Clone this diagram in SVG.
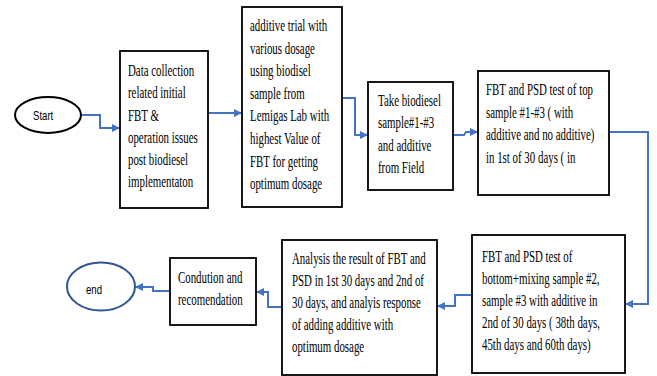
<svg xmlns="http://www.w3.org/2000/svg" width="657" height="376" viewBox="0 0 657 376">
<style>
.box{fill:#fff;stroke:#000;stroke-width:1.8}
.t{font-family:"Liberation Serif","Times New Roman",serif;font-size:16px;fill:#000}
.s{font-family:"Liberation Sans",Arial,sans-serif;font-size:12px;fill:#000}
.c{fill:none;stroke:#4472C4;stroke-width:2;marker-end:url(#arr)}
</style>
<defs>
<marker id="arr" markerUnits="userSpaceOnUse" markerWidth="9" markerHeight="8" refX="8" refY="4" orient="auto">
<path d="M0,0 L8,4 L0,8 z" fill="#4472C4"/>
</marker>
</defs>
<rect width="657" height="376" fill="#fff"/>
<g id="connectors">
<path class="c" d="M82,115 H100 V128 H120"/>
<path class="c" d="M208,113 H242"/>
<path class="c" d="M342,98 H355 V135 H368"/>
<path class="c" d="M453,135 H464 L466,132 H478"/>
<path class="c" d="M609,132 H648 V304 H625"/>
<path class="c" d="M472,295 H455 V306 H437"/>
<path class="c" d="M282,307 H268 V292 H256"/>
<path class="c" d="M170,291 H153 V287 H135"/>
</g>
<g id="start">
<ellipse cx="48" cy="115" rx="33" ry="18" fill="#fff" stroke="#000" stroke-width="2"/>
<text class="s" transform="translate(33 120) scale(0.8 1)">Start</text>
</g>
<g id="data-collection">
<rect class="box" x="120" y="51" width="88" height="157"/>
<text class="t" transform="translate(128 76) scale(0.68 1)"><tspan x="0" y="0">Data collection</tspan><tspan x="0" y="22.3">related initial</tspan><tspan x="0" y="44.6">FBT &amp;</tspan><tspan x="0" y="66.9">operation issues</tspan><tspan x="0" y="89.2">post biodiesel</tspan><tspan x="0" y="111.5">implementaton</tspan></text>
</g>
<g id="additive-trial">
<rect class="box" x="242" y="7" width="100" height="200"/>
<text class="t" transform="translate(250 31) scale(0.68 1)"><tspan x="0" y="0">additive trial with</tspan><tspan x="0" y="22.6">various dosage</tspan><tspan x="0" y="45.2">using biodisel</tspan><tspan x="0" y="67.8">sample from</tspan><tspan x="0" y="90.4">Lemigas Lab with</tspan><tspan x="0" y="113">highest Value of</tspan><tspan x="0" y="135.6">FBT for getting</tspan><tspan x="0" y="158.2">optimum dosage</tspan></text>
</g>
<g id="take-sample">
<rect class="box" x="368" y="82" width="85" height="108"/>
<text class="t" transform="translate(378 106) scale(0.68 1)"><tspan x="0" y="0">Take biodiesel</tspan><tspan x="0" y="22.5">sample#1-#3</tspan><tspan x="0" y="45">and additive</tspan><tspan x="0" y="67.5">from Field</tspan></text>
</g>
<g id="test-top">
<rect class="box" x="478" y="71" width="131" height="124"/>
<text class="t" transform="translate(486 95) scale(0.68 1)"><tspan x="0" y="0">FBT and PSD test of top</tspan><tspan x="0" y="22.7">sample #1-#3 ( with</tspan><tspan x="0" y="45.4">additive and no additive)</tspan><tspan x="0" y="68">in 1st of 30 days ( in</tspan></text>
</g>
<g id="test-bottom">
<rect class="box" x="472" y="235" width="153" height="138"/>
<text class="t" transform="translate(482 262) scale(0.68 1)"><tspan x="0" y="0">FBT and PSD test of</tspan><tspan x="0" y="22">bottom+mixing sample #2,</tspan><tspan x="0" y="44">sample #3 with additive  in</tspan><tspan x="0" y="66">2nd of 30 days ( 38th days,</tspan><tspan x="0" y="88">45th days and 60th days)</tspan></text>
</g>
<g id="analysis">
<rect class="box" x="282" y="240" width="155" height="135"/>
<text class="t" transform="translate(292 264) scale(0.68 1)"><tspan x="0" y="0">Analysis the result of FBT and</tspan><tspan x="0" y="22">PSD in 1st 30 days and 2nd of</tspan><tspan x="0" y="44">30 days, and analyis response</tspan><tspan x="0" y="66">of adding additive with</tspan><tspan x="0" y="88">optimum dosage</tspan></text>
</g>
<g id="conclusion">
<rect class="box" x="170" y="258" width="86" height="67"/>
<text class="t" transform="translate(178 283) scale(0.68 1)"><tspan x="0" y="0">Condution and</tspan><tspan x="0" y="22">recomendation</tspan></text>
</g>
<g id="end">
<ellipse cx="101" cy="286.5" rx="34" ry="24" fill="#fff" stroke="#2F5597" stroke-width="2"/>
<text class="s" transform="translate(86 294) scale(0.8 1)">end</text>
</g>
</svg>
